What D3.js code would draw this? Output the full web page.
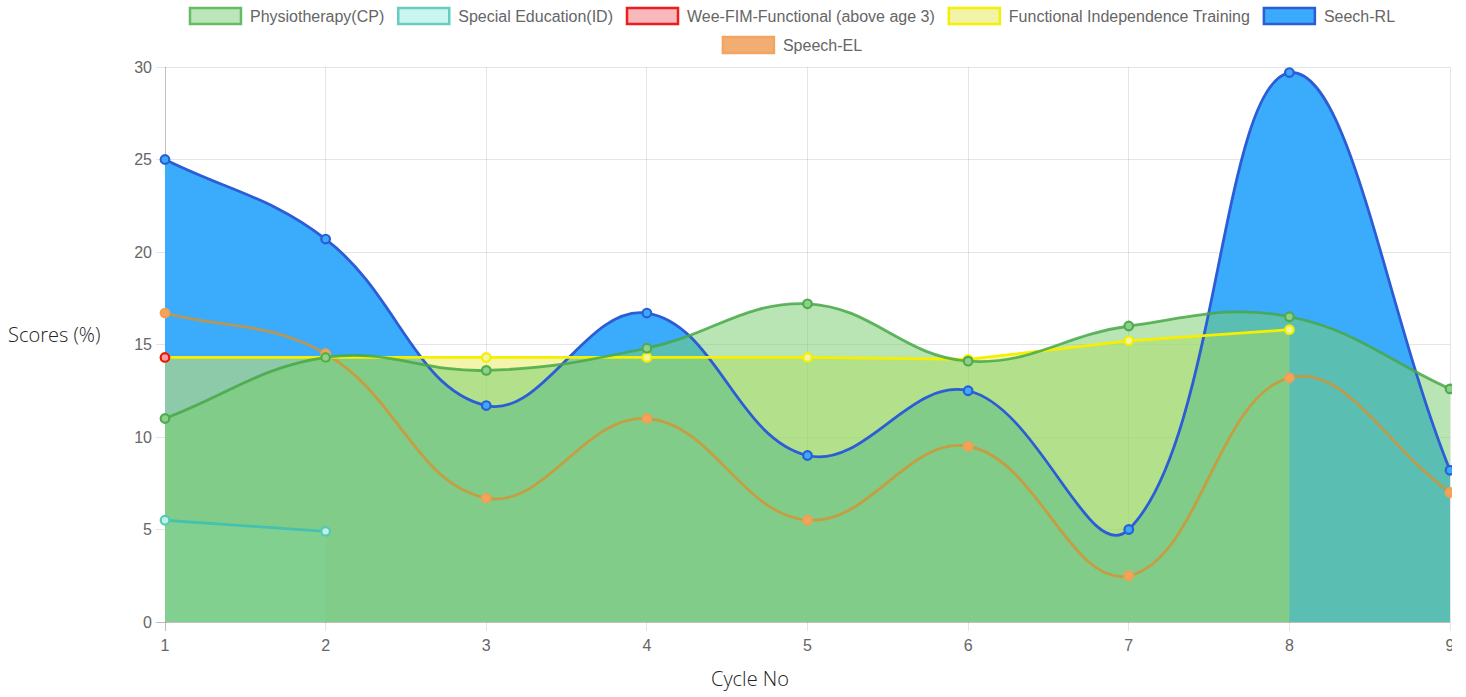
<!DOCTYPE html>
<html>
<head>
<meta charset="utf-8">
<script src="https://cdn.jsdelivr.net/npm/d3@7"></script>
<style>
  html, body { margin: 0; padding: 0; background: #fff; }
  svg { display: block; }
</style>
</head>
<body>
<svg id="chart" width="1466" height="697"></svg>
<script>
// ---------- data ----------
const cycles = [1, 2, 3, 4, 5, 6, 7, 8, 9];
const yTicks = [0, 5, 10, 15, 20, 25, 30];
const seriesNames = ["Physiotherapy(CP)", "Special Education(ID)", "Wee-FIM-Functional (above age 3)", "Functional Independence Training", "Seech-RL", "Speech-EL"];
const physio = [11.0, 14.3, 13.6, 14.8, 17.2, 14.1, 16.0, 16.5, 12.6];
const specialEd = [5.5, 4.9];
const weeFim = [14.3];
const funcIndep = [14.3, 14.3, 14.3, 14.3, 14.3, 14.2, 15.2, 15.8];
const seechRL = [25.0, 20.7, 11.7, 16.7, 9.0, 12.5, 5.0, 29.7, 8.2];
const speechEL = [16.7, 14.5, 6.7, 11.0, 5.5, 9.5, 2.5, 13.2, 7.0];

// ---------- styles ----------
const styles = [
  { data: physio,    line: "rgba(70,168,70,0.85)", fill: "rgba(121,206,111,0.53)", ptFill: "#8fcf8a", ptStroke: "#4eab4e", tension: 0.4, legendFill: "#bbe6b8", legendStroke: "#66bb66" },
  { data: specialEd, line: "#45c2ad", fill: "rgba(140,240,215,0.25)", ptFill: "#bff0e6", ptStroke: "#55c8b6", tension: 0, legendFill: "#cbf6f0", legendStroke: "#66cdbf" },
  { data: weeFim,    line: "#ee1111", fill: null, ptFill: "#f0a0a0", ptStroke: "#ee1111", tension: 0, legendFill: "#f8b9bc", legendStroke: "#ee1c1c" },
  { data: funcIndep, line: "#f6f000", fill: "rgba(230,235,80,0.48)", ptFill: "#f2f4a0", ptStroke: "#f4ee00", tension: 0, legendFill: "#f0f3a8", legendStroke: "#f4f000" },
  { data: seechRL,   line: "#2c5cd6", fill: "rgb(59,172,252)", ptFill: "#3aabfc", ptStroke: "#2c5cd6", tension: 0.4, legendFill: "#3aabfc", legendStroke: "#2c5cd6" },
  { data: speechEL,  line: "rgba(215,145,45,0.78)", fill: null, ptFill: "#f3a35e", ptStroke: "#f0a050", tension: 0.4, legendFill: "#f1ad72", legendStroke: "#f3a460" }
];

const svg = d3.select("#chart");
const pLeft = 165, pRight = 1450, pTop = 67, pBottom = 622;
const x = d3.scaleLinear().domain([1, 9]).range([pLeft, pRight]);
const y = d3.scaleLinear().domain([0, 30]).range([pBottom, pTop]);

// Chart.js style spline curve
function chartjsCurve(tension) {
  return function(context) {
    let pts = [];
    return {
      areaStart() {}, areaEnd() {},
      lineStart() { pts = []; },
      point(px, py) { pts.push([+px, +py]); },
      lineEnd() {
        const n = pts.length;
        if (!n) return;
        context.moveTo(pts[0][0], pts[0][1]);
        if (n === 1) return;
        const cps = pts.map((p, i) => {
          const pr = pts[i - 1] || p, nx = pts[i + 1] || p;
          const d01 = Math.hypot(p[0] - pr[0], p[1] - pr[1]);
          const d12 = Math.hypot(nx[0] - p[0], nx[1] - p[1]);
          let s01 = d01 / (d01 + d12), s12 = d12 / (d01 + d12);
          if (isNaN(s01)) s01 = 0; if (isNaN(s12)) s12 = 0;
          const fa = tension * s01, fb = tension * s12;
          const c = {
            prev: [p[0] - fa * (nx[0] - pr[0]), p[1] - fa * (nx[1] - pr[1])],
            next: [p[0] + fb * (nx[0] - pr[0]), p[1] + fb * (nx[1] - pr[1])]
          };
          [c.prev, c.next].forEach(q => {
            q[0] = Math.max(pLeft, Math.min(pRight, q[0]));
            q[1] = Math.max(pTop, Math.min(pBottom, q[1]));
          });
          return c;
        });
        for (let i = 1; i < n; i++) {
          if (tension === 0) context.lineTo(pts[i][0], pts[i][1]);
          else context.bezierCurveTo(cps[i - 1].next[0], cps[i - 1].next[1], cps[i].prev[0], cps[i].prev[1], pts[i][0], pts[i][1]);
        }
      }
    };
  };
}

// ---------- grid ----------
const grid = svg.append("g");
yTicks.forEach(t => {
  grid.append("line").attr("x1", pLeft - 9).attr("x2", pRight).attr("y1", y(t)).attr("y2", y(t))
    .attr("stroke", t === 0 ? "rgba(0,0,0,0.25)" : "rgba(0,0,0,0.1)").attr("stroke-width", 1)
    .attr("shape-rendering", "crispEdges");
});
cycles.forEach((c, i) => {
  grid.append("line").attr("x1", x(c)).attr("x2", x(c)).attr("y1", pTop).attr("y2", pBottom + 9)
    .attr("stroke", i === 0 ? "rgba(0,0,0,0.25)" : "rgba(0,0,0,0.1)").attr("stroke-width", 1)
    .attr("shape-rendering", "crispEdges");
});

// tick labels
svg.append("g").selectAll("text").data(yTicks).join("text")
  .attr("x", pLeft - 13).attr("y", d => y(d)).attr("dy", "0.35em").attr("text-anchor", "end")
  .attr("font-family", "'Liberation Sans', Arial, sans-serif").attr("font-size", 16).attr("fill", "#666")
  .text(d => d);

svg.append("defs").append("clipPath").attr("id", "clipR").append("rect")
  .attr("x", 0).attr("y", 0).attr("width", 1452).attr("height", 697);

svg.append("g").attr("clip-path", "url(#clipR)").selectAll("text").data(cycles).join("text")
  .attr("x", d => x(d)).attr("y", pBottom + 23).attr("dy", "0.35em").attr("text-anchor", "middle")
  .attr("font-family", "'Liberation Sans', Arial, sans-serif").attr("font-size", 16).attr("fill", "#666")
  .text(d => d);

// ---------- series ----------
const plot = svg.append("g").attr("clip-path", "url(#clipR)");

function linePath(s) {
  return d3.line().x((d, i) => x(cycles[i])).y(d => y(d)).curve(chartjsCurve(s.tension))(s.data);
}

// fills: reverse dataset order
for (let k = styles.length - 1; k >= 0; k--) {
  const s = styles[k];
  if (!s.fill || s.data.length < 2) continue;
  const p = linePath(s) + "L" + x(cycles[s.data.length - 1]) + "," + y(0) + "L" + x(cycles[0]) + "," + y(0) + "Z";
  plot.append("path").attr("d", p).attr("fill", s.fill).attr("stroke", "none");
}
// lines + points: reverse dataset order
for (let k = styles.length - 1; k >= 0; k--) {
  const s = styles[k];
  if (s.data.length > 1) {
    plot.append("path").attr("d", linePath(s)).attr("fill", "none")
      .attr("stroke", s.line).attr("stroke-width", 2.8).attr("stroke-linejoin", "round");
  }
  plot.append("g").selectAll("circle").data(s.data).join("circle")
    .attr("cx", (d, i) => x(cycles[i])).attr("cy", d => y(d)).attr("r", 4.3)
    .attr("fill", s.ptFill).attr("stroke", s.ptStroke).attr("stroke-width", 2.2);
}

// ---------- legend ----------
const lg = svg.append("g");
const fontL = "'Liberation Sans', Arial, sans-serif";
const boxW = 53, boxH = 16, gap = 8, pad = 13;
const rows = [[0, 1, 2, 3, 4], [5]];
const rowY = [16, 45];
const centerX = 792;
rows.forEach((row, ri) => {
  const items = row.map(k => {
    const t = lg.append("text").attr("font-family", fontL).attr("font-size", 16).attr("fill", "#666")
      .attr("dy", "0.35em").text(seriesNames[k]);
    const w = t.node().getComputedTextLength();
    return { k, t, w: boxW + gap + w };
  });
  const total = d3.sum(items, d => d.w) + pad * (items.length - 1);
  let cx = centerX - total / 2;
  items.forEach(it => {
    const s = styles[it.k];
    lg.append("rect").attr("x", cx + 1).attr("y", rowY[ri] - boxH / 2).attr("width", boxW - 2).attr("height", boxH)
      .attr("fill", s.legendFill).attr("stroke", s.legendStroke).attr("stroke-width", 2.5);
    it.t.attr("x", cx + boxW + gap).attr("y", rowY[ri]);
    cx += it.w + pad;
  });
});

// ---------- axis titles ----------
svg.append("text").attr("x", 8).attr("y", 335).attr("dy", "0.35em")
  .attr("font-family", "'Open Sans', 'Noto Sans', sans-serif").attr("font-weight", 300)
  .attr("font-size", 20).attr("fill", "#222").text("Scores (%)");
svg.append("text").attr("x", 750).attr("y", 679).attr("dy", "0.35em").attr("text-anchor", "middle")
  .attr("font-family", "'Open Sans', 'Noto Sans', sans-serif").attr("font-weight", 300)
  .attr("font-size", 20).attr("fill", "#222").text("Cycle No");
</script>
</body>
</html>
